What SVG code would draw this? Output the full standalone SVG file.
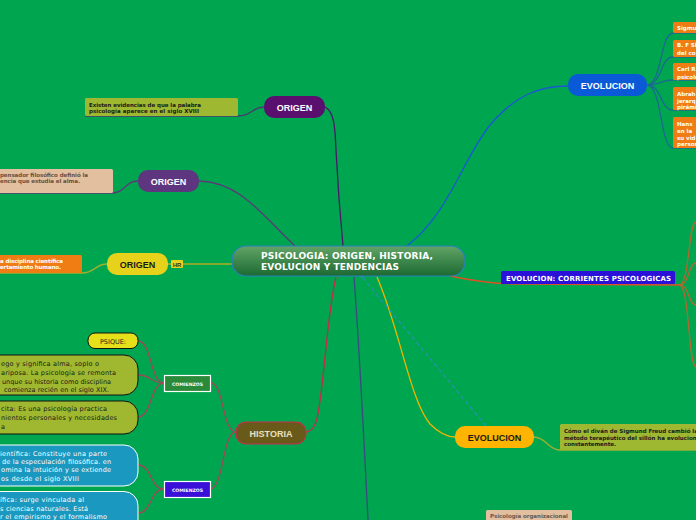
<svg xmlns="http://www.w3.org/2000/svg" width="696" height="520" viewBox="0 0 696 520">
<style>
.lbl{font-family:"Liberation Sans",Arial,sans-serif;font-weight:bold;font-size:9px;text-anchor:middle}
.sm{font-family:"DejaVu Sans",Verdana,sans-serif;font-weight:bold;font-size:5.5px}
.rg{font-family:"DejaVu Sans",Verdana,sans-serif;font-size:6.5px}
.con{fill:none;stroke-width:1.3}
</style>
<defs>
<linearGradient id="cg" x1="0" y1="0" x2="0" y2="1">
<stop offset="0" stop-color="#62a466"/>
<stop offset="1" stop-color="#1b6a32"/>
</linearGradient>
<marker id="arr" markerWidth="8" markerHeight="8" refX="1" refY="4" orient="auto" markerUnits="userSpaceOnUse">
<path d="M7,1 L1,4 L7,7" fill="none" stroke="#2a90b0" stroke-width="1"/>
</marker>
</defs>
<rect width="696" height="520" fill="#00a550"/>

<g id="connectors">
<path class="con" stroke="#4a1868" stroke-width="1.5" d="M325,107 C335,112 335,130 336,150 C338,190 341,225 343,246"/>
<path class="con" stroke="#4a3a70" d="M264,107 C252,107 252,116 238,116 L85,116"/>
<path class="con" stroke="#5a3a78" stroke-width="1.5" d="M199,181 C240,182 262,215 295,246"/>
<path class="con" stroke="#5a3a78" d="M138,181 C125,181 125,193 112,193 L0,193"/>
<path class="con" stroke="#b0b020" d="M168,264 L232,264"/>
<path class="con" stroke="#a0b030" d="M107,264 C95,264 95,273 82,273 L0,273"/>
<path class="con" stroke="#1a5ad0" stroke-width="1.5" d="M407,246 C450,212 462,160 490,125 C515,95 540,86 568,86"/>
<path class="con" stroke="#1a6a90" d="M647,85 C662,85 660,33 673,33 L696,33"/>
<path class="con" stroke="#1a6a90" d="M647,85 C662,85 660,57 673,57 L696,57"/>
<path class="con" stroke="#1a6a90" d="M647,85 C662,85 660,80 673,80 L696,80"/>
<path class="con" stroke="#1a6a90" d="M647,85 C662,85 660,110 673,110 L696,110"/>
<path class="con" stroke="#1a6a90" d="M647,85 C662,85 660,148 673,148 L696,148"/>
<path class="con" stroke="#c8284a" stroke-width="1.5" d="M336,277 C330,300 326,350 322,385 C318,420 316,432 305,432"/>
<path class="con" stroke="#a04858" d="M236,432 C222,432 224,383 211,383"/>
<path class="con" stroke="#a04858" d="M236,432 C222,432 224,489 210,489"/>
<path class="con" stroke="#a04858" d="M164,383 C150,383 152,341 138,341"/>
<path class="con" stroke="#a04858" d="M164,383 C150,383 152,375 138,375"/>
<path class="con" stroke="#a04858" d="M164,383 C150,383 152,417 138,417"/>
<path class="con" stroke="#a04858" d="M164,489 C150,489 152,465 138,465"/>
<path class="con" stroke="#a04858" d="M164,489 C150,489 152,513 138,513"/>
<path class="con" stroke="#3a4a80" stroke-width="1.5" d="M354,277 C358,330 362,400 368,520"/>
<path class="con" stroke="#f0b400" stroke-width="1.5" d="M377,277 C400,330 410,400 430,424 C440,434 448,437 455,437"/>
<path class="con" stroke="#a0b030" d="M534,437 C546,437 548,450 560,450 L696,450"/>
<path class="con" stroke="#2a90b0" stroke-dasharray="4,3" d="M486,426 L363,278" marker-end="url(#arr)"/>
<path class="con" stroke="#e05028" d="M450,276 C478,282 500,284 520,284 L679,285"/>
<path class="con" stroke="#b06830" d="M679,285 C690,285 688,222 696,222"/>
<path class="con" stroke="#b06830" d="M679,285 C690,285 688,263 696,263"/>
<path class="con" stroke="#b06830" d="M679,285 C690,285 688,305 696,305"/>
<path class="con" stroke="#b06830" d="M679,285 C690,285 688,367 696,367"/>
</g>

<g id="center">
<rect x="232" y="246" width="233" height="30" rx="14" fill="url(#cg)" stroke="#2a80c0" stroke-width="1.2"/>
<text x="261" y="259" font-family="DejaVu Sans,Verdana,sans-serif" font-weight="bold" font-size="9" fill="#fff" textLength="172">PSICOLOGIA: ORIGEN, HISTORIA,</text>
<text x="261" y="270" font-family="DejaVu Sans,Verdana,sans-serif" font-weight="bold" font-size="9" fill="#fff" textLength="138">EVOLUCION Y TENDENCIAS</text>
</g>

<g id="origen1">
<rect x="264" y="96" width="61" height="22" rx="10" fill="#5a0f6e"/>
<text class="lbl" x="294.5" y="110.5" fill="#fff">ORIGEN</text>
</g>
<g id="origen1-note">
<rect x="85" y="98" width="153" height="18" rx="1.5" fill="#9fb832"/>
<text class="sm" x="89" y="106.5" fill="#1a1a1a" textLength="112">Existen evidencias de que la palabra</text>
<text class="sm" x="89" y="112.5" fill="#1a1a1a" textLength="110">psicologia aparece en el siglo XVIII</text>
</g>

<g id="origen2">
<rect x="138" y="170" width="61" height="22" rx="10" fill="#5e3680"/>
<text class="lbl" x="168.5" y="184.5" fill="#fff">ORIGEN</text>
</g>
<g id="origen2-note">
<rect x="-4" y="169" width="117" height="24" rx="1.5" fill="#e2bf9f"/>
<text class="sm" x="0" y="177" fill="#6a5040" textLength="88">pensador filosófico definió la</text>
<text class="sm" x="0" y="183" fill="#6a5040" textLength="80">encia que estudia el alma.</text>
</g>

<g id="origen3">
<rect x="107" y="253" width="61" height="22" rx="10" fill="#e6d21a"/>
<text class="lbl" x="137.5" y="267.5" fill="#1a1a1a">ORIGEN</text>
<rect x="171" y="260" width="12" height="8" rx="1" fill="#e6d21a"/>
<text x="177" y="266.5" font-family="Liberation Sans,Arial,sans-serif" font-weight="bold" font-size="6" text-anchor="middle" fill="#333">HR</text>
</g>
<g id="origen3-note">
<rect x="-4" y="255" width="86" height="18" rx="1.5" fill="#f07c14"/>
<text class="sm" x="0" y="263" fill="#fff" textLength="63">a disciplina científica</text>
<text class="sm" x="0" y="269" fill="#fff" textLength="61">ertamiento humano.</text>
</g>

<g id="evolucion1">
<rect x="568" y="74" width="79" height="22" rx="10" fill="#0a5ad8"/>
<text class="lbl" x="607.5" y="88.5" fill="#fff">EVOLUCION</text>
</g>
<g id="evo-sigmund">
<rect x="673" y="22" width="30" height="11" rx="1.5" fill="#f07c14"/>
<text class="sm" x="677" y="30" fill="#fff">Sigmu</text>
</g>
<g id="evo-skinner">
<rect x="673" y="40" width="30" height="17" rx="1.5" fill="#f07c14"/>
<text class="sm" x="677" y="46.5" fill="#fff">B. F Sk</text>
<text class="sm" x="677" y="54.5" fill="#fff">del co</text>
</g>
<g id="evo-rogers">
<rect x="673" y="63" width="30" height="17" rx="1.5" fill="#f07c14"/>
<text class="sm" x="677" y="70.5" fill="#fff">Carl R</text>
<text class="sm" x="677" y="78.5" fill="#fff">psicolo</text>
</g>
<g id="evo-maslow">
<rect x="673" y="87" width="30" height="23" rx="1.5" fill="#f07c14"/>
<text class="sm" x="677" y="95.5" fill="#fff">Abrah</text>
<text class="sm" x="677" y="102.5" fill="#fff">jerarq</text>
<text class="sm" x="677" y="109" fill="#fff">pirámi</text>
</g>
<g id="evo-hans">
<rect x="673" y="117" width="30" height="31" rx="1.5" fill="#f07c14"/>
<text class="sm" x="677" y="126" fill="#fff">Hans</text>
<text class="sm" x="677" y="133" fill="#fff">en la</text>
<text class="sm" x="677" y="139.5" fill="#fff">su vid</text>
<text class="sm" x="677" y="146" fill="#fff">person</text>
</g>

<g id="corrientes">
<rect x="501" y="271" width="174" height="13" rx="1.5" fill="#2a10d8"/>
<text x="506" y="280.5" font-family="DejaVu Sans,Verdana,sans-serif" font-weight="bold" font-size="7" fill="#fff" textLength="165">EVOLUCION: CORRIENTES PSICOLOGICAS</text>
</g>

<g id="evolucion2">
<rect x="455" y="426" width="79" height="22" rx="10" fill="#ffb400"/>
<text class="lbl" x="494.5" y="441" fill="#1a1a1a" font-size="10">EVOLUCION</text>
</g>
<g id="evolucion2-note">
<rect x="560" y="424" width="140" height="26" rx="1.5" fill="#9fb832"/>
<text class="sm" x="564" y="433" fill="#1a1a1a">Cómo el diván de Sigmund Freud cambió la</text>
<text class="sm" x="564" y="439.5" fill="#1a1a1a">método terapéutico del sillón ha evolucion</text>
<text class="sm" x="564" y="446" fill="#1a1a1a" textLength="52">constantemente.</text>
</g>

<g id="historia">
<rect x="236" y="422" width="70" height="22" rx="10" fill="#6a5a1a" stroke="#c03050" stroke-width="1.2"/>
<text class="lbl" x="271" y="436.5" fill="#e8e0c0">HISTORIA</text>
</g>
<g id="comienzos1">
<rect x="164.5" y="375.5" width="46" height="16" fill="#2a8a3a" stroke="#fff" stroke-width="1.2"/>
<text x="187.5" y="385.5" font-family="DejaVu Sans,Verdana,sans-serif" font-weight="bold" font-size="4.6" text-anchor="middle" fill="#fff">COMIENZOS</text>
</g>
<g id="comienzos2">
<rect x="164.5" y="481.5" width="46" height="16" fill="#3a10d8" stroke="#fff" stroke-width="1.2"/>
<text x="187.5" y="491.5" font-family="DejaVu Sans,Verdana,sans-serif" font-weight="bold" font-size="4.6" text-anchor="middle" fill="#fff">COMIENZOS</text>
</g>
<g id="psique">
<rect x="88" y="333" width="50" height="15.5" rx="7" fill="#e6e01a" stroke="#111" stroke-width="1"/>
<text x="113" y="343.5" font-family="DejaVu Sans,Verdana,sans-serif" font-size="6.5" text-anchor="middle" fill="#1a1a1a">PSIQUE:</text>
</g>
<g id="psique-def">
<rect x="-20" y="355" width="158" height="40" rx="14" fill="#a0b830" stroke="#111" stroke-width="1"/>
<text class="rg" x="1" y="366" fill="#1a1a1a" textLength="98">ego y significa alma, soplo o</text>
<text class="rg" x="1" y="375" fill="#1a1a1a" textLength="115">ariposa. La psicología se remonta</text>
<text class="rg" x="2" y="383.5" fill="#1a1a1a" textLength="109">unque su historia como disciplina</text>
<text class="rg" x="4" y="392" fill="#1a1a1a" textLength="105">comienza recién en el siglo XIX.</text>
</g>
<g id="psique-implicita">
<rect x="-20" y="401" width="158" height="33" rx="14" fill="#a0b830" stroke="#111" stroke-width="1"/>
<text class="rg" x="1" y="410.5" fill="#1a1a1a" textLength="106">cita: Es una psicología practica</text>
<text class="rg" x="1" y="419.5" fill="#1a1a1a" textLength="116">nientos personales y necesidades</text>
<text class="rg" x="1" y="428.5" fill="#1a1a1a">a</text>
</g>
<g id="precientifica">
<rect x="-20" y="445" width="158" height="41" rx="14" fill="#1a98c0" stroke="#fff" stroke-width="1"/>
<text class="rg" x="0" y="455.5" fill="#fff" textLength="107">ientífica: Constituye una parte</text>
<text class="rg" x="2" y="463.5" fill="#fff" textLength="109">de la especulación filosófica. en</text>
<text class="rg" x="1" y="472" fill="#fff" textLength="110">omina la intuición y se extiende</text>
<text class="rg" x="1" y="480.5" fill="#fff" textLength="78">os desde el siglo XVIII</text>
</g>
<g id="cientifica">
<rect x="-20" y="491.5" width="158" height="45" rx="14" fill="#1a98c0" stroke="#fff" stroke-width="1"/>
<text class="rg" x="0" y="502" fill="#fff" textLength="84">ífica: surge vinculada al</text>
<text class="rg" x="0" y="510.5" fill="#fff" textLength="88">s ciencias naturales. Está</text>
<text class="rg" x="0" y="519" fill="#fff" textLength="107">r el empirismo y el formalismo</text>
</g>

<g id="psicologia-organizacional">
<rect x="486" y="510" width="86" height="16" rx="1.5" fill="#e2bf9f"/>
<text class="sm" x="490" y="517.5" fill="#6a5a50" textLength="78">Psicología organizacional</text>
</g>
</svg>
